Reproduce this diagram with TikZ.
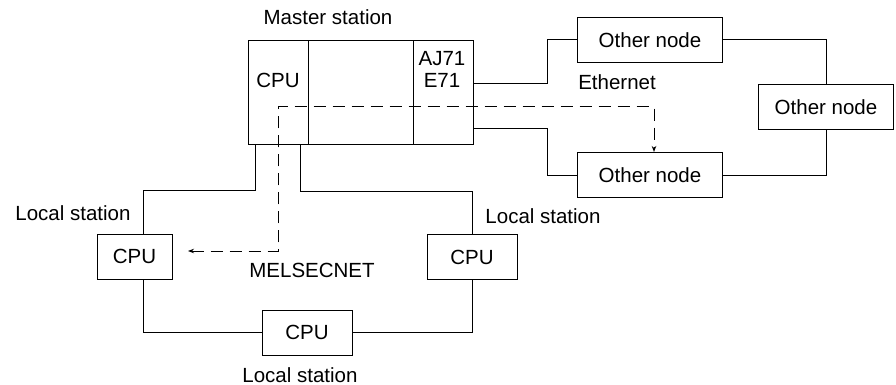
\documentclass[tikz,border=0pt]{standalone}
\usepackage{fontspec}
\setmainfont{Liberation Sans}
\usetikzlibrary{calc,arrows.meta}
\tikzset{
  unitbox/.style={
    draw,
    line width = 1pt,
    inner sep = 0pt,
    minimum height = 45pt
  },
  cpubox/.style={
    unitbox,
    minimum width = 90pt
  },
  othernode/.style={
    unitbox,
    minimum width = 145pt
  },
  link/.style={
    line width = 1pt
  },
  dashlink/.style={
    line width = 1pt,
    dash pattern = on 12pt off 7pt,
    {Stealth[length=6pt,width=4.5pt]}-{Stealth[length=6pt,width=4.5pt]}
  },
  every picture/.style = {
    x = 1pt,
    y = -1pt,
    font = \fontsize{20.5}{22}\selectfont
  }
}

\begin{document}
\begin{tikzpicture}
            \useasboundingbox (0,0) rectangle (896,385);
            % master station
            \node[unitbox, minimum width=60pt, minimum height=103pt] (mcpu) at (278,92.5) {};
            \node[unitbox, minimum width=105pt, minimum height=103pt] (mmid) at (360.5,92.5) {};
            \node[unitbox, minimum width=60pt, minimum height=103pt] (mlan) at (443,92.5) {};
            \node (mcputext) at (278,80) {CPU};
            \node[align=center] (mlantext) at (442,69) {AJ71\\E71};
            \node (mlabel) at (328,17) {Master station};
            % ethernet
            \node[othernode] (on1) at (650,40) {Other node};
            \node[othernode, minimum width=135pt] (on3) at (826,107) {Other node};
            \node[othernode] (on2) at (650,175) {Other node};
            \node (ether) at (617,82) {Ethernet};
            % melsecnet
            \node[cpubox, minimum width=75pt] (lcpu) at (134.5,256.5) {CPU};
            \node[cpubox] (rcpu) at (472,257) {CPU};
            \node[cpubox] (bcpu) at (307,332.5) {CPU};
            \node (llabel) at (73,213) {Local station};
            \node (rlabel) at (543,216) {Local station};
            \node (blabel) at (300,375) {Local station};
            \node (mnet) at (312,270) {MELSECNET};
            \draw[link] ($(mlan.north east)!0.41!(mlan.south east)$) -| ([xshift=-30pt]on1.west) -- (on1.west);
            \draw[link] ($(mlan.north east)!0.85!(mlan.south east)$) -| ([xshift=-30pt]on2.west) -- (on2.west);
            \draw[link] (on1.east) -| (on3.north);
            \draw[link] (on3.south) |- (on2.east);
            \draw[link] ([xshift=8pt]mcpu.south west) -- ++(0,46) -| ([xshift=8.5pt]lcpu.north);
            \draw[link] ([xshift=-8pt]mcpu.south east) -- ++(0,47) -| (rcpu.north);
            \draw[link] ([xshift=8.5pt]lcpu.south) |- (bcpu.west);
            \draw[link] (bcpu.east) -| (rcpu.south);
            \coordinate (tipl) at (188,251);
            \draw[dashlink] (tipl) -| (278,107) -| ([xshift=4pt]on2.north);
\end{tikzpicture}
\end{document}
